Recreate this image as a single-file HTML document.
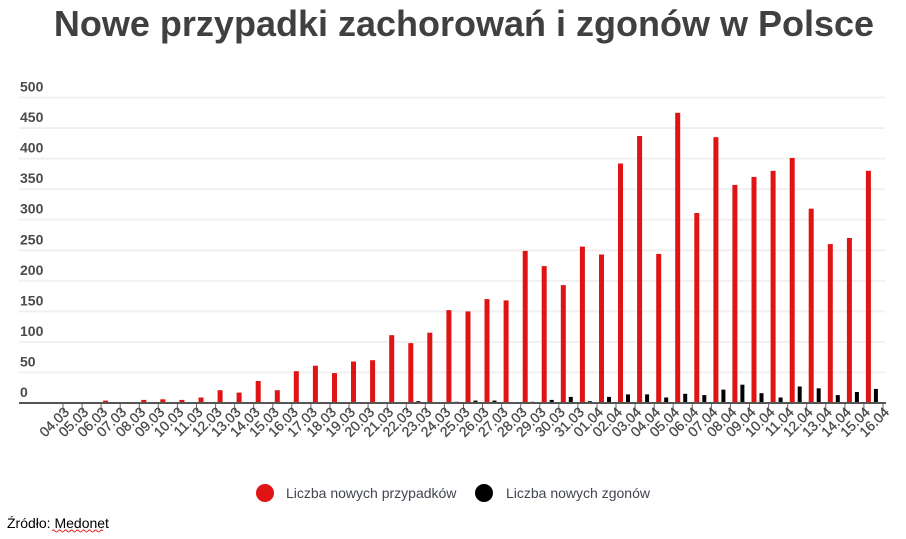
<!DOCTYPE html>
<html><head><meta charset="utf-8"><style>
html,body{margin:0;padding:0;background:#fff;width:906px;height:539px;overflow:hidden}
svg{display:block;font-family:"Liberation Sans",sans-serif}
</style></head><body>
<svg id="s" width="906" height="539" viewBox="0 0 906 539" xmlns="http://www.w3.org/2000/svg">
<text x="464" y="36" text-anchor="middle" font-size="36" font-weight="bold" fill="#404040">Nowe przypadki zachorowań i zgonów w Polsce</text>
<g id="g"></g>
<circle cx="265" cy="493" r="9" fill="#e01414"/>
<text x="286" y="498" font-size="14" fill="#404550">Liczba nowych przypadków</text>
<circle cx="484" cy="493" r="9" fill="#000"/>
<text x="506" y="498" font-size="14" fill="#404550">Liczba nowych zgonów</text>
<text x="7" y="528" font-size="14" fill="#000">Źródło: Medonet</text>
<path d="M52 531 q1.5 -2 3 0 t3 0 t3 0 t3 0 t3 0 t3 0 t3 0 t3 0 t3 0 t3 0 t3 0 t3 0 t3 0 t3 0 t3 0 t3 0 t3 0" stroke="#e02020" stroke-width="1" fill="none"/>
</svg>
<script>
var g=document.getElementById('g'),h='';
var base=403,k=305.5/500;
for(var i=0;i<=10;i++){var y=base-i*50*k;
 if(i>0)h+='<rect x="19" y="'+(y-1).toFixed(1)+'" width="866" height="2" fill="#f0f0f0"/>';
 h+='<text x="20" y="'+(y-6).toFixed(1)+'" font-size="14" font-weight="bold" fill="#4a4a4a">'+(i*50)+'</text>';}
var red=[1,0,4,1,5,6,5,9,21,17,36,21,52,61,49,68,70,111,98,115,152,150,170,168,249,224,193,256,243,392,437,244,475,311,435,357,370,380,401,318,260,270,380];
var blk=[0,0,0,0,0,0,0,0,1,1,1,0,1,1,1,0,1,1,3,1,2,4,4,1,2,5,10,3,10,14,14,9,15,13,22,30,16,9,27,24,13,18,23];
var lab=[];for(var d=4;d<=31;d++)lab.push((d<10?'0':'')+d+'.03');for(var d=1;d<=16;d++)lab.push((d<10?'0':'')+d+'.04');
var sp=(883-63)/43;
for(var i=0;i<44;i++){var x=63+sp*i;
 h+='<rect x="'+(x-0.5).toFixed(1)+'" y="403" width="1" height="8" fill="#666"/>';
 h+='<text transform="translate('+(x+7).toFixed(1)+',413) rotate(-45)" text-anchor="end" font-size="14" fill="#4a4a4a" stroke="#4a4a4a" stroke-width="0.3">'+lab[i]+'</text>';
 if(i<43){var rh=red[i]*k,bh=blk[i]*k;
  if(rh>0)h+='<rect x="'+(x+2).toFixed(1)+'" y="'+(base-rh).toFixed(1)+'" width="5" height="'+rh.toFixed(1)+'" fill="#e01414"/>';
  if(bh>0)h+='<rect x="'+(x+10).toFixed(1)+'" y="'+(base-bh).toFixed(1)+'" width="4" height="'+bh.toFixed(1)+'" fill="#000"/>';}}
h+='<rect x="19" y="402" width="867" height="2" fill="#555"/>';
g.innerHTML=h;
</script>
</body></html>
